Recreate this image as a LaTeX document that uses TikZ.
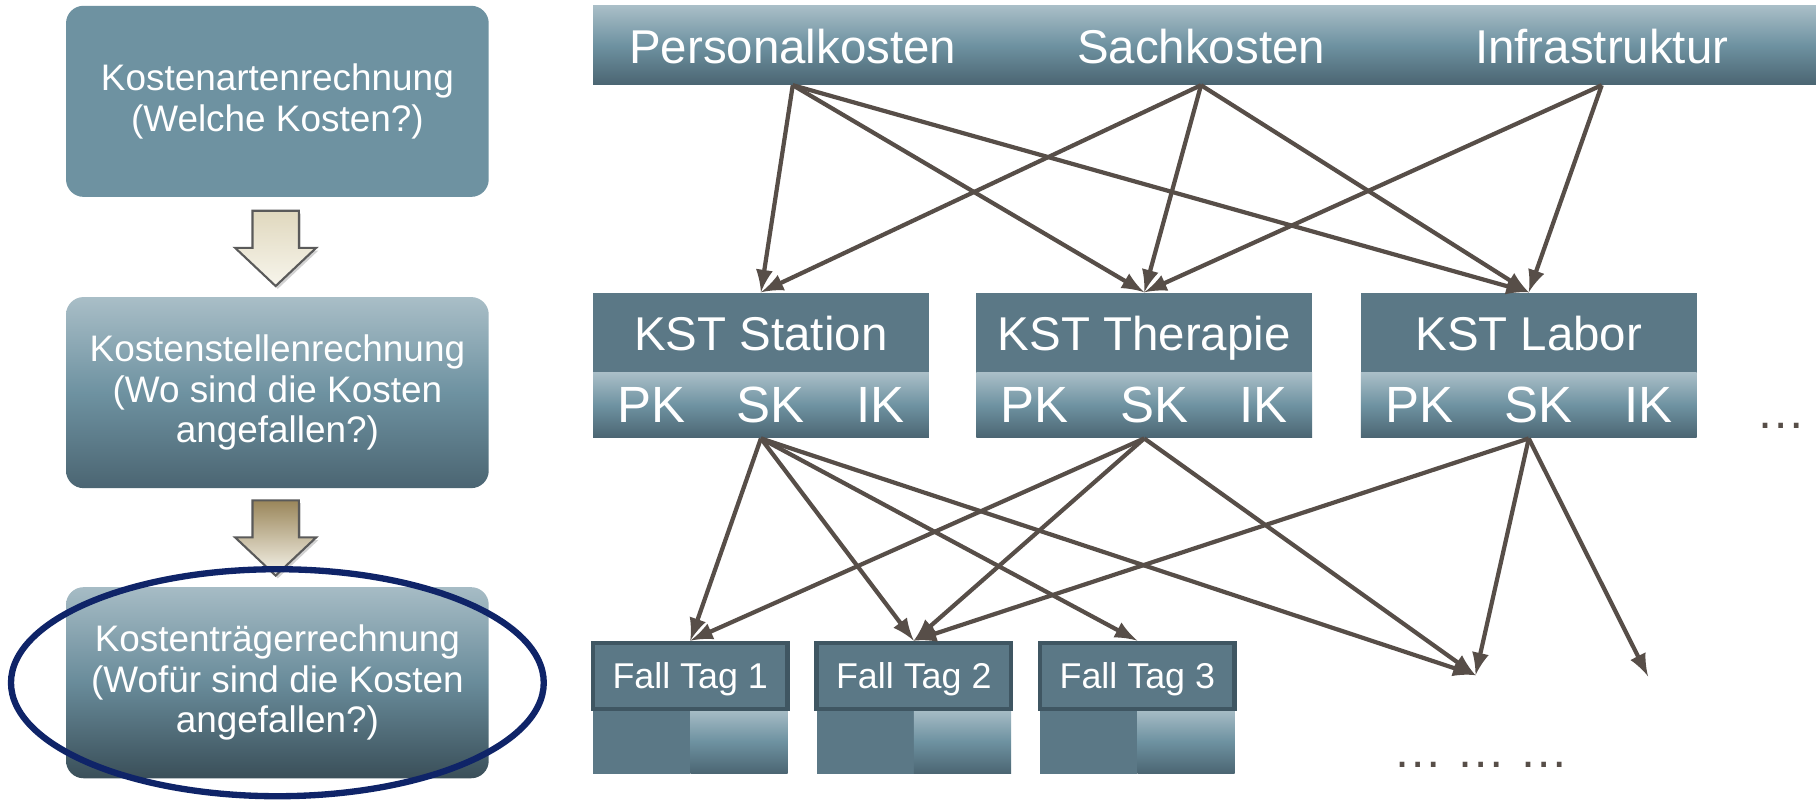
\documentclass[tikz,border=0pt]{standalone}
\usepackage{fontspec}
\setmainfont{Liberation Sans}
\usepackage{tikz}
\usetikzlibrary{arrows,shadows}
\definecolor{steel}{HTML}{6E92A1}
\definecolor{lite}{HTML}{A9BEC7}
\definecolor{deep}{HTML}{4B6572}
\definecolor{deeper}{HTML}{3A4F59}
\definecolor{kstdark}{HTML}{5B7886}
\definecolor{ftedge}{HTML}{3F5662}
\definecolor{linecol}{HTML}{574E48}
\definecolor{navy}{HTML}{0F2468}
\definecolor{blkedge}{HTML}{5A5A5A}
\definecolor{creamtop}{HTML}{E0D8BE}
\definecolor{creambot}{HTML}{F7F5EC}
\definecolor{goldtop}{HTML}{9A865A}

\begin{document}
\begin{tikzpicture}[x=0.01158cm,y=-0.01158cm,
    lbox/.style={rounded corners=5pt,minimum width=4.227cm,minimum height=1.911cm,align=center,text=white,font=\fontsize{10.5}{11.5}\selectfont},
    bartext/.style={text=white,text depth=0pt,font=\fontsize{13.5}{16}\selectfont},
    kstbox/.style={fill=kstdark,minimum width=3.358cm,minimum height=0.799cm,text=white,text depth=0pt,font=\fontsize{13.5}{16}\selectfont},
    kstrow/.style={top color=lite,bottom color=deep,middle color=steel,minimum width=3.358cm,minimum height=0.648cm,text width=2.87cm,text=white,font=\fontsize{14.5}{16}\selectfont},
    fallbox/.style={fill=kstdark,draw=ftedge,line width=1.2pt,minimum width=1.945cm,minimum height=0.66cm,text=white,text depth=0pt,font=\fontsize{10.2}{12}\selectfont},
    fallshade/.style={top color=lite,bottom color=deep,middle color=steel},
    dots/.style={text=linecol,font=\fontsize{14}{16}\selectfont},
    conn/.style={draw=linecol,line width=1.2pt,-latex},
    blockarrow/.style={draw=blkedge,line width=0.6pt,drop shadow={opacity=0.35,shadow xshift=0.6pt,shadow yshift=-0.8pt}}]
\useasboundingbox[fill=white] (0,0) rectangle (1568,690);

\node[lbox,fill=steel] (kar) at (239.5,87.5) {Kostenartenrechnung\\(Welche Kosten?)};
\node[lbox,top color=lite,bottom color=deep,middle color=steel] (ksr) at (239.5,339) {Kostenstellenrechnung\\(Wo sind die Kosten\\angefallen?)};
\node[lbox,top color=lite!95!steel,bottom color=deeper,middle color=steel!85!deep] (ktr) at (239.5,589.5) {Kostenträgerrechnung\\(Wofür sind die Kosten\\angefallen?)};
\draw[blockarrow,top color=creamtop,bottom color=creambot] (218,182) -- (258,182) -- (258,214) -- (273,214) -- (238,247) -- (203,214) -- (218,214) -- cycle;
\draw[blockarrow,top color=goldtop,bottom color=creambot] (218,432) -- (258,432) -- (258,464) -- (273,464) -- (238,497) -- (203,464) -- (218,464) -- cycle;
\draw[navy,line width=1.8pt] (ktr.center) ellipse [x radius=230,y radius=98];

\node[top color=lite,bottom color=deep,middle color=steel,minimum width=12.228cm,minimum height=0.787cm] (bar) at (1040,39) {};
\node[bartext] (pkost) at (684.5,40) {Personalkosten};
\node[bartext] (skost) at (1037,40) {Sachkosten};
\node[bartext] (infra) at (1383,40) {Infrastruktur};

\node[kstbox] (stat) at (657,287.5) {KST Station};
\node[kstrow] (statk) at (657,350) {PK\hfill SK\hfill IK};
\node[kstbox] (ther) at (988,287.5) {KST Therapie};
\node[kstrow] (therk) at (988,350) {PK\hfill SK\hfill IK};
\node[kstbox] (labo) at (1320,287.5) {KST Labor};
\node[kstrow] (labok) at (1320,350) {PK\hfill SK\hfill IK};
\node[dots] (more) at (1538,368) {…};

\fill[kstdark] (512,612) rectangle (596,668);
\path[fallshade] (596,612) rectangle (680,668);
\fill[kstdark] (705,612) rectangle (789,668);
\path[fallshade] (789,612) rectangle (873,668);
\fill[kstdark] (898,612) rectangle (982,668);
\path[fallshade] (982,612) rectangle (1066,668);
\node[fallbox] (fall1) at (596,583.5) {Fall Tag 1};
\node[fallbox] (fall2) at (789,583.5) {Fall Tag 2};
\node[fallbox] (fall3) at (982,583.5) {Fall Tag 3};
\node[dots] (morefall) at (1279,660) {… … …};
\coordinate (open1) at (1274,583);
\coordinate (open2) at (1423,584);

\draw[conn] (pkost |- bar.south) -- (stat.north);
\draw[conn] (pkost |- bar.south) -- (ther.north);
\draw[conn] (pkost |- bar.south) -- (labo.north);
\draw[conn] (skost |- bar.south) -- (stat.north);
\draw[conn] (skost |- bar.south) -- (ther.north);
\draw[conn] (skost |- bar.south) -- (labo.north);
\draw[conn] (infra |- bar.south) -- (ther.north);
\draw[conn] (infra |- bar.south) -- (labo.north);

\draw[conn] (statk.south) -- (fall1.north);
\draw[conn] (statk.south) -- (fall2.north);
\draw[conn] (statk.south) -- (fall3.north);
\draw[conn] (statk.south) -- (open1);
\draw[conn] (therk.south) -- (fall1.north);
\draw[conn] (therk.south) -- (fall2.north);
\draw[conn] (therk.south) -- (open1);
\draw[conn] (labok.south) -- (fall2.north);
\draw[conn] (labok.south) -- (open1);
\draw[conn] (labok.south) -- (open2);
\end{tikzpicture}
\end{document}
